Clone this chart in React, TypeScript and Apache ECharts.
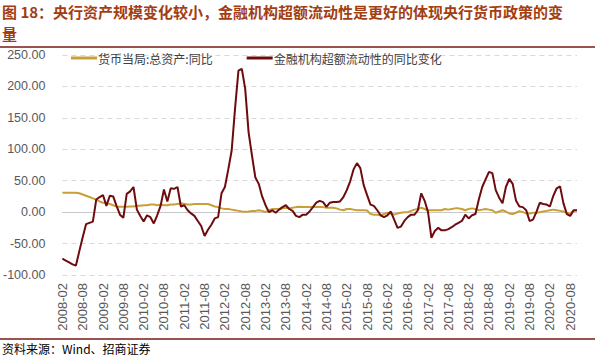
import React, { useEffect, useRef } from "react";
import * as echarts from "echarts";

const titleLine1 = "图 18：央行资产规模变化较小，金融机构超额流动性是更好的体现央行货币政策的变";
const titleLine2 = "量";
const sourceText = "资料来源：Wind、招商证券";
const seriesNames = ["货币当局:总资产:同比", "金融机构超额流动性的同比变化"];
const startYear = 2008;
const startMonth = 2;
const pointCount = 153;

// 货币当局:总资产:同比
const assetYoY = [
  31, 31, 31, 31, 31, 30, 28, 26, 24, 22,
  20, 17, 15, 14, 13, 11, 9, 8.5, 8.5, 8.5,
  9, 9, 10, 10, 11, 11, 12, 12, 11, 12,
  11, 11, 12, 12, 13, 14, 13, 12, 12, 13,
  13, 13, 13, 13, 11, 9, 8, 6, 5, 5,
  4, 3, 2, 1, 0.5, 1, 2, 2, 3, 2,
  0, 3, 5, 5, 5, 6, 7, 6, 7, 8,
  8.5, 8, 8, 8, 8, 8, 8, 8, 7, 7,
  7, 6, 4, 3, 5, 5, 4, 3, 3, 3,
  2.5, -3, -4, -4, -5, -3, -1, -2, -4, -2,
  -1, 0, 0, 2, 4, 5, 7, 5, 3, 3,
  3, 3, 3, 5, 4, 5, 6, 6, 5, 3,
  5, 6, 5, 3, 4, 5, 4, 3, -1, 1,
  3, 1, -2, -3, -1, 1.6, 0, -2, -2, -1,
  -1, 0, 1, 2, 3, 4, 3, 2, 1, -1,
  -2, 2, 3,
];

// 金融机构超额流动性的同比变化
const liquidityYoY = [
  -74, -77, -80, -83, -85, -62, -40, -19, -17, -15,
  20, 24, 27, 10, 26, 25, 10, -4, -9, 29,
  33, 40, 4, -6, -15, -5, -8, -18, -5, 10,
  36, 17, 38, 37, 40, 9, 11, 3, -2, -6,
  -14, -22, -38, -28, -20, -10, -8, 30, 40, 68,
  98, 165, 225, 228, 196, 127, 90, 55, 45, 25,
  11, 0, 3, -1, 4, 8, 11, 5, 2, -6,
  -8, -4, -4, 1, 8, 15, 18, 16, 8.5, 15,
  16, 16, 17, 24, 35, 49, 68, 78, 70, 43,
  27, 12, 10, 3, -5, -8, -5, 1, -12, -25,
  -23, -14, -8, -4, -4, 3, 30, 18, 0, -41,
  -30, -25, -29, -29, -27, -24, -20, -17, -14, -4,
  -10, -5, -3, 20, 40, 52, 64, 62, 35, 23,
  14, 40, 53, 45, 18, 9, 8, 3, -14, -12,
  0, 15, 13, 12, 9, 26, 38, 41, 14, -3,
  -6, 3, 3,
];

const yMin = -100;
const yMax = 250;
const yInterval = 50;

const months: string[] = [];
for (let i = 0; i < pointCount; i++) {
  const m0 = startMonth - 1 + i;
  const y = startYear + Math.floor(m0 / 12);
  const m = (m0 % 12) + 1;
  months.push(`${y}-${m < 10 ? "0" + m : m}`);
}

const GOLD = "#C9A038";
const DARK = "#6E0B0E";

export default function App() {
  const ref = useRef<HTMLDivElement>(null);
  useEffect(() => {
    document.body.style.margin = "0";
    if (!ref.current) return;
    const chart = echarts.init(ref.current, undefined, { renderer: "svg" });
    chart.setOption({
      animation: false,
      backgroundColor: "#ffffff",
      textStyle: { fontFamily: "Liberation Sans, Arial, sans-serif" },
      grid: { left: 62, right: 18, top: 55, bottom: 87, containLabel: false },
      legend: {
        top: 47,
        left: 66,
        itemWidth: 26,
        itemHeight: 3,
        itemGap: 34,
        icon: "rect",
        data: seriesNames,
        textStyle: {
          fontFamily: "Noto Sans CJK SC",
          fontSize: 12,
          color: "#404040",
          padding: [0, 0, 0, -4],
        },
      },
      xAxis: {
        type: "category",
        boundaryGap: false,
        data: months,
        axisLine: { show: false, onZero: false },
        axisTick: { show: false },
        axisLabel: {
          interval: 5,
          rotate: 90,
          margin: 8,
          fontSize: 13,
          color: "#595959",
          fontFamily: "Liberation Sans, Arial, sans-serif",
        },
        splitLine: { show: false },
      },
      yAxis: {
        type: "value",
        min: yMin,
        max: yMax,
        interval: yInterval,
        axisLine: { show: false },
        axisTick: { show: false },
        axisLabel: {
          margin: 17,
          fontSize: 12.5,
          color: "#595959",
          formatter: (v: number) => v.toFixed(2),
          fontFamily: "Liberation Sans, Arial, sans-serif",
        },
        splitLine: { lineStyle: { color: "#D9D9D9", type: [5, 4], width: 1 } },
      },
      series: [
        {
          name: seriesNames[0],
          type: "line",
          data: assetYoY,
          symbol: "none",
          lineStyle: { color: GOLD, width: 2 },
          itemStyle: { color: GOLD },
          z: 3,
          markLine: {
            silent: true,
            symbol: "none",
            label: { show: false },
            lineStyle: { color: "#C8C8C8", type: "solid", width: 1 },
            data: [{ yAxis: 0 }],
            z: 1,
          },
        },
        {
          name: seriesNames[1],
          type: "line",
          data: liquidityYoY,
          symbol: "none",
          lineStyle: { color: DARK, width: 2 },
          itemStyle: { color: DARK },
          z: 4,
        },
      ],
      graphic: [
        {
          type: "text",
          left: 2,
          top: 4,
          style: {
            text: titleLine1,
            fontSize: 15,
            fontWeight: "bold",
            fill: "#A33D12",
            fontFamily: "Noto Sans CJK SC",
          },
        },
        {
          type: "text",
          left: 2,
          top: 26,
          style: {
            text: titleLine2,
            fontSize: 15,
            fontWeight: "bold",
            fill: "#A33D12",
            fontFamily: "Noto Sans CJK SC",
          },
        },
        {
          type: "line",
          shape: { x1: 0, y1: 47, x2: 595, y2: 47 },
          style: { stroke: "#7A1A16", lineWidth: 1.5 },
        },
        {
          type: "line",
          shape: { x1: 0, y1: 339, x2: 595, y2: 339 },
          style: { stroke: "#7A1A16", lineWidth: 1.5 },
        },
        {
          type: "text",
          left: 2,
          top: 342,
          style: {
            text: sourceText,
            fontSize: 12,
            fill: "#000000",
            fontFamily: "Noto Sans CJK SC",
          },
        },
      ],
    });
    return () => chart.dispose();
  }, []);
  return <div ref={ref} style={{ width: 595, height: 362 }} />;
}
